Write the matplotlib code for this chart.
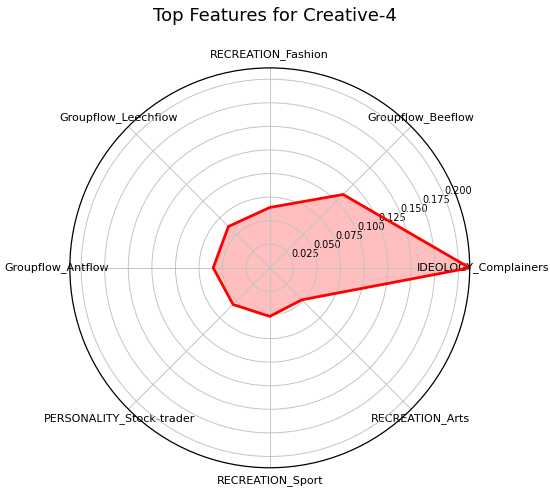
import matplotlib.pyplot as plt
import numpy as np

# features (counter-clockwise from the right)
labels = ['IDEOLOGY_Complainers', 'Groupflow_Beeflow', 'RECREATION_Fashion',
          'Groupflow_Leechflow', 'Groupflow_Antflow', 'PERSONALITY_Stock-trader',
          'RECREATION_Sport', 'RECREATION_Arts']
values = [0.212, 0.110, 0.064, 0.062, 0.060, 0.055, 0.0515, 0.048]

angles = np.linspace(0, 2*np.pi, len(labels), endpoint=False).tolist()
vals = values + values[:1]
angs = angles + angles[:1]

fig = plt.figure(figsize=(5.5, 4.91), dpi=100)
ax = fig.add_axes([0.127, 0.047, 0.727, 0.815], polar=True)

ax.plot(angs, vals, color='red', linewidth=2)
ax.fill(angs, vals, color='red', alpha=0.25)

ax.set_xticks(angles)
ax.set_xticklabels(labels, fontsize=8)
ax.tick_params(axis='x', pad=-1)
ax.set_yticks([0.025, 0.05, 0.075, 0.1, 0.125, 0.15, 0.175, 0.2])
ax.set_yticklabels(['0.025', '0.050', '0.075', '0.100', '0.125', '0.150', '0.175', '0.200'], fontsize=7)
ax.set_ylim(0, max(values))
ax.grid(True, color='#c4c4c4', linewidth=0.7)
ax.spines['polar'].set_linewidth(0.9)

fig.suptitle('Top Features for Creative-4', fontsize=13, y=0.985)

plt.savefig('out.png', dpi=100)
